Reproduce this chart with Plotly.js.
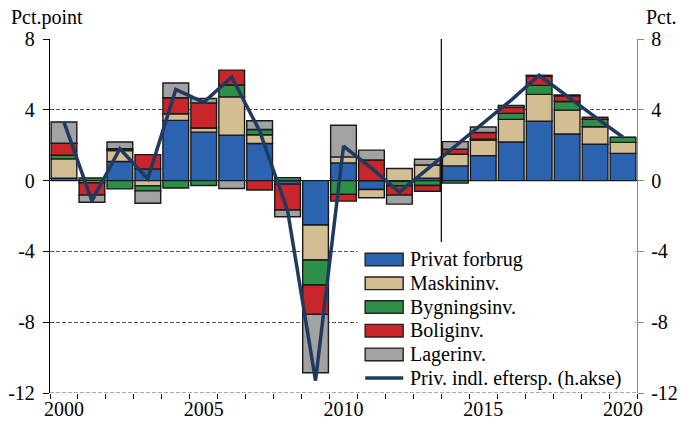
<!DOCTYPE html>
<html>
<head>
<meta charset="utf-8">
<script src="https://cdn.plot.ly/plotly-3.0.1.min.js"></script>
<style>html,body{margin:0;padding:0;background:#fff;}#chart{width:681px;height:422px;}</style>
</head>
<body>
<div id="chart"></div>
<script>
// ---- Data ----
const years = [2000,2001,2002,2003,2004,2005,2006,2007,2008,2009,2010,2011,2012,2013,2014,2015,2016,2017,2018,2019,2020];
const privatForbrug = [0.13,0.00,1.08,0.66,3.40,2.74,2.57,2.10,-0.20,-2.51,1.00,-0.50,-0.04,0.13,0.83,1.41,2.18,3.35,2.63,2.05,1.54];
const maskinInv     = [1.10,-0.12,0.62,-0.30,0.38,0.23,2.16,0.49,0.00,-1.98,0.34,-0.47,0.68,0.75,0.66,0.88,1.28,1.52,1.35,0.99,0.62];
const bygningsInv   = [0.20,0.15,-0.47,-0.28,-0.42,-0.28,0.67,0.30,0.17,-1.41,-0.78,0.00,-0.25,-0.28,-0.14,0.05,0.34,0.51,0.49,0.42,0.28];
const boligInv      = [0.68,-0.70,0.10,0.81,0.90,1.42,0.84,-0.53,-1.46,-1.66,-0.38,1.16,-0.53,-0.32,0.28,0.38,0.34,0.52,0.32,0.11,0.00];
const lagerInv      = [1.20,-0.40,0.38,-0.70,0.83,0.25,-0.45,0.49,-0.38,-3.30,1.79,0.56,-0.51,0.33,0.43,0.31,0.11,0.05,0.05,0.00,0.00];
const privIndlEftersp = [3.30,-1.15,1.80,0.10,5.15,4.42,5.85,2.80,-1.70,-11.30,1.95,0.70,-0.65,0.65,1.95,3.25,4.55,5.95,4.75,3.60,2.45];
const xTickLabels = [2000,2005,2010,2015,2020];
const yTicks = [-12,-8,-4,0,4,8];
const yTickText = ["-12","-8","-4","0","4","8"];
const forecastStart = 2013.5;

const seriesNames = ["Privat forbrug","Maskininv.","Bygningsinv.","Boliginv.","Lagerinv."];
const seriesData = [privatForbrug, maskinInv, bygningsInv, boligInv, lagerInv];
const seriesColors = ["#2C63B0","#D3BE93","#2E8F46","#C8262A","#A2A2A2"];
const lineName = "Priv. indl. eftersp. (h.akse)";
const lineColor = "#1F3A5E";

const FONT = "Liberation Serif, Times New Roman, serif";

const traces = seriesData.map((vals, i) => ({
  type: "bar",
  x: years,
  y: vals,
  name: seriesNames[i],
  width: 0.92,
  marker: {color: seriesColors[i], line: {color: "#1a1a1a", width: 1.4}},
  showlegend: false
}));
traces.push({
  type: "scatter",
  mode: "lines",
  x: years,
  y: privIndlEftersp,
  name: lineName,
  yaxis: "y2",
  line: {color: lineColor, width: 3.5},
  showlegend: false
});
// invisible trace to attach the label axis
traces.push({type: "scatter", mode: "none", x: [years[0]], y: [0], xaxis: "x2", showlegend: false, hoverinfo: "skip"});

// plot area in px: left 50, right 636.7, top 39, bottom 393
const L = 50, R = 636.7, T = 39, B = 393;
const px = x => (x - L) / (R - L);
const py = y => (B - y) / (B - T);

const shapes = [
  {type: "line", xref: "paper", yref: "y", x0: 0, x1: 1, y0: yTicks[0], y1: yTicks[0],
   line: {color: "#555", width: 1, dash: "4px,2px"}, layer: "below"},
  {type: "line", xref: "x", yref: "y", x0: forecastStart, x1: forecastStart, y0: -3.5, y1: 8,
   line: {color: "#000", width: 1.2}, layer: "above"},
  {type: "rect", xref: "paper", yref: "paper", x0: px(357), x1: px(635), y0: py(389), y1: py(242),
   fillcolor: "#ffffff", line: {width: 0}, layer: "above"}
];
const annotations = [
  {xref: "paper", yref: "paper", x: px(9), y: py(17), xanchor: "left", yanchor: "middle",
   text: "Pct.point", showarrow: false, font: {family: FONT, size: 20, color: "#000"}},
  {xref: "paper", yref: "paper", x: px(644), y: py(17), xanchor: "left", yanchor: "middle",
   text: "Pct.", showarrow: false, font: {family: FONT, size: 20, color: "#000"}}
];
const rowY = [259.6, 283.3, 307, 330.7, 354.4, 378.1];
seriesNames.forEach((n, i) => {
  shapes.push({type: "rect", xref: "paper", yref: "paper",
    x0: px(365), x1: px(403), y0: py(rowY[i] + 6.3), y1: py(rowY[i] - 6.3),
    fillcolor: seriesColors[i], line: {color: "#222", width: 1.4}, layer: "above"});
  annotations.push({xref: "paper", yref: "paper", x: px(408), y: py(rowY[i]), xanchor: "left", yanchor: "middle",
    text: n, showarrow: false, font: {family: FONT, size: 20, color: "#000"}});
});
shapes.push({type: "line", xref: "paper", yref: "paper", x0: px(365), x1: px(403), y0: py(rowY[5]), y1: py(rowY[5]),
  line: {color: lineColor, width: 3.5}, layer: "above"});
annotations.push({xref: "paper", yref: "paper", x: px(408), y: py(rowY[5]), xanchor: "left", yanchor: "middle",
  text: lineName, showarrow: false, font: {family: FONT, size: 20, color: "#000"}});

const boundaries = years.map(y => y - 0.5).concat([years[years.length - 1] + 0.5]);
const xRange = [boundaries[0], boundaries[boundaries.length - 1]];

const layout = {
  width: 681, height: 422,
  margin: {l: L, r: 681 - R, t: T, b: 422 - B, pad: 0},
  paper_bgcolor: "#fff", plot_bgcolor: "#fff",
  barmode: "relative",
  showlegend: false,
  font: {family: FONT, size: 20, color: "#000"},
  xaxis: {
    range: xRange,
    tickmode: "array", tickvals: boundaries, ticktext: boundaries.map(() => ""),
    ticks: "outside", ticklen: 5, tickwidth: 1, tickcolor: "#000",
    showgrid: false, zeroline: false, showline: false
  },
  xaxis2: {
    overlaying: "x", anchor: "y", side: "bottom",
    range: xRange,
    tickmode: "array", tickvals: xTickLabels, ticktext: xTickLabels.map(String),
    ticks: "", showgrid: false, zeroline: false, showline: false,
    ticklabelstandoff: 2,
    tickfont: {family: FONT, size: 20, color: "#000"}
  },
  yaxis: {
    range: [-12, 8], tickmode: "array", tickvals: yTicks, ticktext: yTickText,
    showgrid: true, gridcolor: "#555", gridwidth: 1, griddash: "4px,2px",
    zeroline: true, zerolinecolor: "#000", zerolinewidth: 1.5,
    showline: true, linecolor: "#000", linewidth: 1.2,
    ticks: "outside", ticklen: 6, tickcolor: "#000", tickwidth: 1,
    ticklabelstandoff: 4,
    tickfont: {family: FONT, size: 20, color: "#000"}
  },
  yaxis2: {
    overlaying: "y", side: "right",
    range: [-12, 8], tickmode: "array", tickvals: yTicks, ticktext: yTickText,
    showgrid: false, zeroline: false,
    showline: true, linecolor: "#888", linewidth: 1.2,
    ticks: "outside", ticklen: 6, tickcolor: "#888", tickwidth: 1,
    ticklabelstandoff: 3,
    tickfont: {family: FONT, size: 20, color: "#000"}
  },
  shapes: shapes,
  annotations: annotations
};

Plotly.newPlot("chart", traces, layout, {displayModeBar: false, staticPlot: true});
</script>
</body>
</html>
